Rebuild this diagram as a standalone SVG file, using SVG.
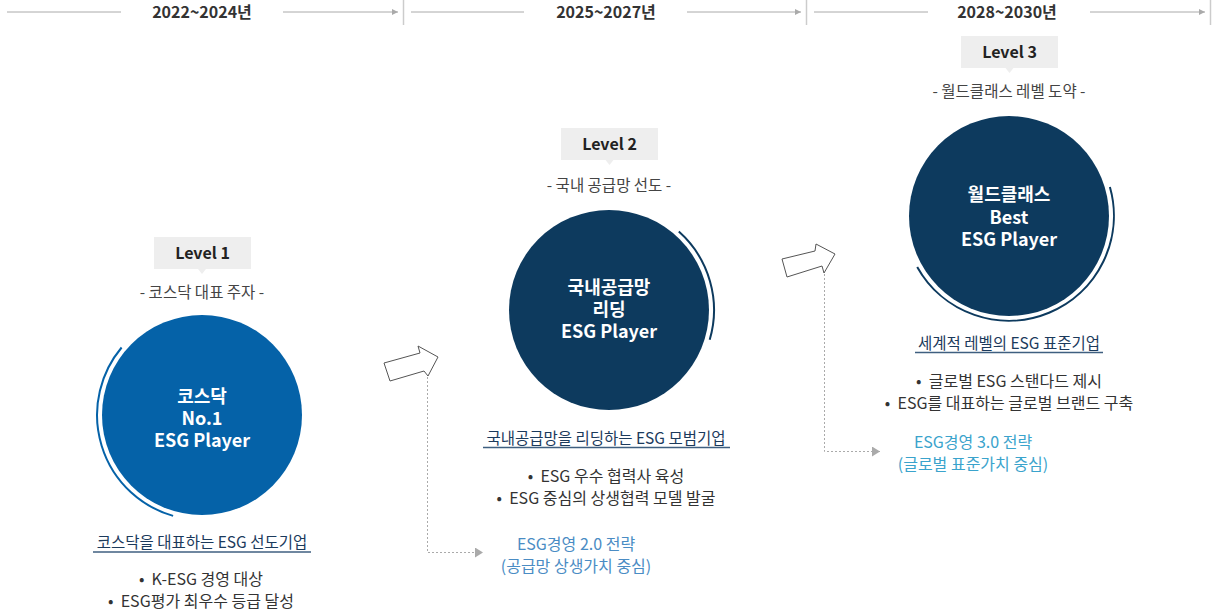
<svg xmlns="http://www.w3.org/2000/svg" width="1212" height="612" viewBox="0 0 1212 612">
<defs>
<style>
text{font-family:"Noto Sans CJK KR","Noto Sans",sans-serif;text-anchor:middle}
.period{font-size:16px;font-weight:700;fill:#333}
.tl{stroke:#aaa;stroke-width:1;fill:none}
.sep{stroke:#ccc;stroke-width:1.5}
.lvbox{fill:#eeeeee}
.lv{font-size:16px;font-weight:700;fill:#222}
.sub{font-size:15.5px;fill:#444}
.ctext{font-size:18px;font-weight:700;fill:#fff}
.title{font-size:15.5px;fill:#1b3a5c}
.uline{stroke:#3f5f80;stroke-width:1.3}
.bul{font-size:16px;fill:#333}
.dash{stroke:#aaa;stroke-width:1;stroke-dasharray:2,2;fill:none}
.blk{fill:#fff;stroke:#555;stroke-width:1}
</style>
<marker id="tlh" viewBox="0 0 6 6" refX="6" refY="3" markerWidth="6" markerHeight="6" markerUnits="userSpaceOnUse" orient="auto"><path d="M0,0 L6,3 L0,6 Z" fill="#aaa"/></marker>
<marker id="dh" viewBox="0 0 8 10" refX="8" refY="5" markerWidth="8" markerHeight="10" markerUnits="userSpaceOnUse" orient="auto"><path d="M0,0 L8,5 L0,10 Z" fill="#aaa"/></marker>
</defs>
<rect width="1212" height="612" fill="#fff"/>

<g id="timeline">
<line class="sep" x1="403.5" y1="0" x2="403.5" y2="25"/>
<line class="sep" x1="806.5" y1="0" x2="806.5" y2="25"/>
<line class="sep" x1="1210.5" y1="0" x2="1210.5" y2="25"/>
<line class="tl" x1="7" y1="12" x2="121" y2="12"/>
<line class="tl" x1="283" y1="12" x2="398" y2="12" marker-end="url(#tlh)"/>
<text class="period" x="202" y="18">2022~2024년</text>
<line class="tl" x1="411" y1="12" x2="524" y2="12"/>
<line class="tl" x1="687" y1="12" x2="801" y2="12" marker-end="url(#tlh)"/>
<text class="period" x="606" y="18">2025~2027년</text>
<line class="tl" x1="814" y1="12" x2="928" y2="12"/>
<line class="tl" x1="1090" y1="12" x2="1205" y2="12" marker-end="url(#tlh)"/>
<text class="period" x="1007" y="18">2028~2030년</text>
</g>

<g id="level1">
<rect class="lvbox" x="154" y="237" width="97" height="32"/>
<path class="lvbox" d="M198,269 L206,269 L202,274 Z"/>
<text class="lv" x="202.5" y="259">Level 1</text>
<text class="sub" x="202" y="298">- 코스닥 대표 주자 -</text>
<circle cx="202" cy="415" r="100" fill="#0562a8"/>
<path d="M173.1,515.9 A105,105 0 0 1 121.6,347.5" fill="none" stroke="#0562a8" stroke-width="2"/>
<text class="ctext" x="202" y="403">코스닥</text>
<text class="ctext" x="202" y="425">No.1</text>
<text class="ctext" x="202" y="447">ESG Player</text>
<text class="title" x="202" y="548">코스닥을 대표하는 ESG 선도기업</text>
<line class="uline" x1="93" y1="552" x2="311" y2="552"/>
<text class="bul" x="201" y="585">•&#160; K-ESG 경영 대상</text>
<text class="bul" x="201" y="607">•&#160; ESG평가 최우수 등급 달성</text>
</g>

<g id="level2">
<rect class="lvbox" x="561" y="128" width="97" height="32"/>
<path class="lvbox" d="M605.5,160 L613.5,160 L609.5,165 Z"/>
<text class="lv" x="609.5" y="150">Level 2</text>
<text class="sub" x="609" y="191">- 국내 공급망 선도 -</text>
<circle cx="609" cy="310" r="100" fill="#0d3a5e"/>
<path d="M678.8,231.6 A105,105 0 0 1 709.7,339.8" fill="none" stroke="#0d3a5e" stroke-width="2"/>
<text class="ctext" x="609" y="294">국내공급망</text>
<text class="ctext" x="609" y="316">리딩</text>
<text class="ctext" x="609" y="338">ESG Player</text>
<text class="title" x="606" y="444">국내공급망을 리딩하는 ESG 모범기업</text>
<line class="uline" x1="483" y1="447.5" x2="730" y2="447.5"/>
<text class="bul" x="606" y="482">•&#160; ESG 우수 협력사 육성</text>
<text class="bul" x="606" y="504">•&#160; ESG 중심의 상생협력 모델 발굴</text>
</g>

<g id="level3">
<rect class="lvbox" x="961" y="36" width="97" height="32"/>
<path class="lvbox" d="M1005.5,68 L1013.5,68 L1009.5,73 Z"/>
<text class="lv" x="1009.5" y="58">Level 3</text>
<text class="sub" x="1009" y="97">- 월드클래스 레벨 도약 -</text>
<circle cx="1009" cy="216" r="100" fill="#0d3a5e"/>
<path d="M1109.9,187.1 A105,105 0 0 1 917.2,266.9" fill="none" stroke="#0d3a5e" stroke-width="2"/>
<text class="ctext" x="1009" y="201">월드클래스</text>
<text class="ctext" x="1009" y="224">Best</text>
<text class="ctext" x="1009" y="246">ESG Player</text>
<text class="title" x="1009" y="349">세계적 레벨의 ESG 표준기업</text>
<line class="uline" x1="915" y1="352.5" x2="1103" y2="352.5"/>
<text class="bul" x="1009" y="387">•&#160; 글로벌 ESG 스탠다드 제시</text>
<text class="bul" x="1009" y="409">•&#160; ESG를 대표하는 글로벌 브랜드 구축</text>
</g>

<g id="strategy2">
<text class="bul" x="576" y="550" style="fill:#4a8cc4">ESG경영 2.0 전략</text>
<text class="bul" x="576" y="572" style="fill:#4a8cc4">(공급망 상생가치 중심)</text>
</g>
<g id="strategy3">
<text class="bul" x="973" y="448" style="fill:#3aa3cc">ESG경영 3.0 전략</text>
<text class="bul" x="973" y="470" style="fill:#3aa3cc">(글로벌 표준가치 중심)</text>
</g>

<g id="connectors">
<polygon class="blk" points="384,363 420,353 418,346 438,357 428,376 424,371 390,381"/>
<polyline class="dash" points="427.5,377 427.5,552.5 483,552.5" marker-end="url(#dh)"/>
<polygon class="blk" points="782,259 815,251 816,244 835,254 824,273 822,266 787,277"/>
<polyline class="dash" points="824.5,274 824.5,451.5 880,451.5" marker-end="url(#dh)"/>
</g>
</svg>
